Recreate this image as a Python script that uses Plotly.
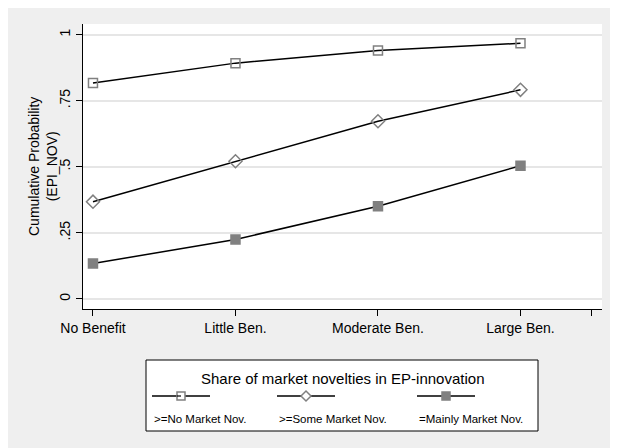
import plotly.graph_objects as go

# ---- data ----
categories = ["No Benefit", "Little Ben.", "Moderate Ben.", "Large Ben."]
cat_pos = [1, 2, 3, 4]
no_market = [0.817, 0.892, 0.940, 0.967]
some_market = [0.368, 0.521, 0.672, 0.791]
mainly_market = [0.134, 0.225, 0.351, 0.504]
series_names = [">=No Market Nov.", ">=Some Market Nov.", "=Mainly Market Nov."]
legend_title = "Share of market novelties in EP-innovation"
y_ticks = [0, 0.25, 0.5, 0.75, 1]
y_ticklabels = ["0", ".25", ".5", ".75", "1"]

W, H = 618, 448
OFF = 8  # page body margin
L, R, T, B = 83 - OFF, 602 - OFF, 24 - OFF, 309 - OFF  # plot area in figure pixels


def px(x):
    return (x - OFF - L) / (R - L)


def py(y):
    return (B - (y - OFF)) / (B - T)


MCOL = "#808080"
BG = "#efefef"
FONT = "Liberation Sans, Arial, sans-serif"

fig = go.Figure()
specs = [
    (no_market, "square-open"),
    (some_market, "diamond-open"),
    (mainly_market, "square"),
]
for (vals, sym), name in zip(specs, series_names):
    fig.add_trace(go.Scatter(
        x=cat_pos, y=vals, mode="lines+markers", name=name,
        line=dict(color="black", width=1.5),
        marker=dict(symbol=sym, size=10 if "diamond" in sym else 9, color=MCOL,
                    line=dict(color=MCOL, width=1.5)),
        showlegend=False, cliponaxis=False,
    ))

fig.update_layout(
    width=W, height=H,
    margin=dict(l=L, r=W - R, t=T, b=H - B, pad=0),
    paper_bgcolor=BG, plot_bgcolor="white",
    font=dict(family=FONT, color="black", size=14),
    showlegend=False,
)
fig.update_xaxes(
    range=[0.93, 4.572], tickvals=cat_pos + [4.5], ticktext=categories + [""],
    showgrid=False, zeroline=False, showline=True, linecolor="black", linewidth=1.2,
    ticks="outside", ticklen=6, tickcolor="black", tickwidth=1.2,
    tickfont=dict(size=14), mirror=False,
)
fig.update_yaxes(
    range=[-0.038, 1.04], tickvals=y_ticks, ticktext=y_ticklabels, tickangle=-90,
    showgrid=True, gridcolor="#e6e6e6", gridwidth=1.5, zeroline=False,
    showline=True, linecolor="black", linewidth=1.2,
    ticks="outside", ticklen=6, tickcolor="black", tickwidth=1.2,
    tickfont=dict(size=14),
)

shapes = []
annotations = []

# y title
annotations.append(dict(text="Cumulative Probability<br>(EPI_NOV)", xref="paper", yref="paper",
                        x=px(43), y=py(167), textangle=-90, showarrow=False,
                        font=dict(size=14), xanchor="center", yanchor="middle"))

# legend box
shapes.append(dict(type="rect", xref="paper", yref="paper", x0=px(146), x1=px(538), y0=py(431), y1=py(360),
                   fillcolor="white", line=dict(color="black", width=1)))
annotations.append(dict(text=legend_title, xref="paper", yref="paper", x=px(342), y=py(379),
                        showarrow=False, font=dict(size=15), xanchor="center", yanchor="middle"))
cols = [(152, 210), (277, 335), (417, 475)]
ly = 396
for (x0, x1), (_, sym), name in zip(cols, specs, series_names):
    shapes.append(dict(type="line", xref="paper", yref="paper", x0=px(x0), x1=px(x1), y0=py(ly), y1=py(ly),
                       line=dict(color="black", width=1.5)))
    mx = (x0 + x1) / 2
    if sym == "diamond-open":
        path = "M {} {} L {} {} L {} {} L {} {} Z".format(
            px(mx - 5), py(ly), px(mx), py(ly - 5), px(mx + 5), py(ly), px(mx), py(ly + 5))
        shapes.append(dict(type="path", xref="paper", yref="paper", path=path,
                           fillcolor="white", line=dict(color=MCOL, width=1.5)))
    else:
        fill = "white" if sym == "square-open" else MCOL
        shapes.append(dict(type="rect", xref="paper", yref="paper", x0=px(mx - 4), x1=px(mx + 4),
                           y0=py(ly + 4), y1=py(ly - 4), fillcolor=fill, line=dict(color=MCOL, width=1.5)))
        if sym == "square-open":
            shapes.append(dict(type="line", xref="paper", yref="paper", x0=px(mx - 4), x1=px(mx),
                               y0=py(ly), y1=py(ly), line=dict(color="black", width=1.2)))
    annotations.append(dict(text=name, xref="paper", yref="paper", x=px(x0), y=py(419),
                            showarrow=False, font=dict(size=11.5), xanchor="left", yanchor="middle"))

fig.update_layout(shapes=shapes, annotations=annotations)
fig.write_html("out.html")
